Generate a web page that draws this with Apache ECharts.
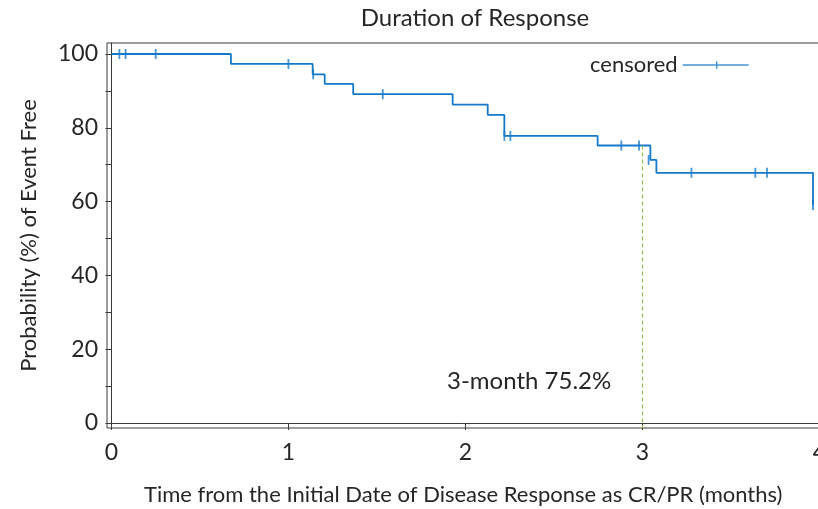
<!DOCTYPE html>
<html>
<head>
<meta charset="utf-8">
<title>Duration of Response</title>
<script src="https://cdn.jsdelivr.net/npm/echarts@6/dist/echarts.min.js"></script>
<style>
  html, body { margin: 0; padding: 0; background: #fff; }
  #chart { width: 818px; height: 509px; }
</style>
</head>
<body>
<div id="chart"></div>
<script>
// Kaplan-Meier estimate: times (months) where an event occurs and the survival after it (%)
const eventTimes = [0.675, 1.137, 1.205, 1.366, 1.928, 2.126, 2.220, 2.747, 3.045, 3.079, 3.964];
const survivalAfter = [97.3, 94.5, 91.9, 89.1, 86.3, 83.5, 77.8, 75.2, 71.3, 67.8, 59.1];

// Censored observations (months) and the curve level at which they sit (%)
const censorTimes = [0.045, 0.080, 0.250, 1.000, 1.140, 1.533, 2.220, 2.254, 2.881, 2.981, 3.035, 3.277, 3.638, 3.704, 3.964];
const censorLevels = [100, 100, 100, 97.3, 94.5, 89.1, 77.8, 77.8, 75.2, 75.2, 71.3, 67.8, 67.8, 67.8, 59.1];

// Landmark annotation
const landmarkMonth = 3;
const landmarkSurvival = 75.2;

// Axis ticks
const xTicks = [0, 1, 2, 3, 4];
const yTicks = [0, 10, 20, 30, 40, 50, 60, 70, 80, 90, 100];
const yLabels = [0, 20, 40, 60, 80, 100];

const curve = [[0, 100]].concat(eventTimes.map((t, i) => [t, survivalAfter[i]]));
const censored = censorTimes.map((t, i) => [t, censorLevels[i]]);

const BLUE = '#1479c9';
const TEXT = '#262626';
const AXIS = '#3a3a3a';
const FONT = 'Lato, "Open Sans", sans-serif';
const Y_MIN = -1.36, Y_MAX = 102.98;

const chart = echarts.init(document.getElementById('chart'), null, { renderer: 'canvas' });
chart.setOption({
  animation: false,
  backgroundColor: '#fff',
  textStyle: { fontFamily: FONT },
  title: {
    text: 'Duration of Response',
    left: 470,
    textAlign: 'center',
    top: 1,
    textStyle: { fontFamily: FONT, fontSize: 24, fontWeight: 'normal', color: TEXT }
  },
  legend: {
    data: [{
      name: 'censored',
      icon: 'path://M0,5 L66,5 L66,6.4 L0,6.4 Z M33.3,2 L34.7,2 L34.7,9.4 L33.3,9.4 Z'
    }],
    left: 585,
    top: 49,
    align: 'right',
    itemWidth: 66,
    itemHeight: 10,
    itemGap: 6,
    textStyle: { fontFamily: FONT, fontSize: 22, color: TEXT }
  },
  grid: {
    left: 107,
    top: 43,
    width: 712.4,
    height: 385,
    outerBoundsMode: 'none',
    show: true,
    borderColor: AXIS,
    borderWidth: 1,
    containLabel: false
  },
  xAxis: {
    type: 'value',
    min: -0.025,
    max: 4,
    name: 'Time from the Initial Date of Disease Response as CR/PR (months)',
    nameLocation: 'middle',
    nameGap: 56,
    nameTextStyle: { fontFamily: FONT, fontSize: 22, color: TEXT },
    axisLine: { show: true, lineStyle: { color: AXIS, width: 1 } },
    axisTick: { show: true, length: 7, customValues: xTicks, lineStyle: { color: AXIS } },
    axisLabel: { customValues: xTicks, margin: 13, fontSize: 23, color: TEXT, fontFamily: FONT },
    splitLine: { show: false }
  },
  yAxis: {
    type: 'value',
    min: Y_MIN,
    max: Y_MAX,
    name: 'Probability (%) of Event Free',
    nameLocation: 'middle',
    nameGap: 67,
    nameTextStyle: { fontFamily: FONT, fontSize: 22, color: TEXT },
    axisLine: { show: true, lineStyle: { color: AXIS, width: 1 } },
    axisTick: { show: true, length: 6, customValues: yTicks, lineStyle: { color: AXIS } },
    axisLabel: { customValues: yLabels, margin: 9, fontSize: 23, color: TEXT, fontFamily: FONT },
    splitLine: { show: false }
  },
  series: [
    {
      name: 'survival',
      type: 'line',
      step: 'end',
      data: curve,
      showSymbol: false,
      symbol: 'none',
      lineStyle: { color: BLUE, width: 1.8 },
      z: 3,
      markLine: {
        silent: true,
        symbol: 'none',
        label: { show: false },
        lineStyle: { color: '#93c04c', type: [4, 3], width: 1.2 },
        data: [[{ coord: [landmarkMonth, landmarkSurvival] }, { coord: [landmarkMonth, Y_MIN] }]]
      },
      markPoint: {
        silent: true,
        symbol: 'circle',
        symbolSize: 0,
        label: {
          show: true,
          formatter: landmarkMonth + '-month ' + landmarkSurvival.toFixed(1) + '%',
          fontFamily: FONT,
          fontSize: 24,
          color: TEXT,
          position: 'inside'
        },
        data: [{ coord: [2.36, 11.4] }]
      }
    },
    {
      name: 'censored',
      type: 'scatter',
      data: censored,
      symbol: 'rect',
      symbolSize: [1.8, 10],
      itemStyle: { color: BLUE },
      z: 4
    }
  ]
});
</script>
</body>
</html>
